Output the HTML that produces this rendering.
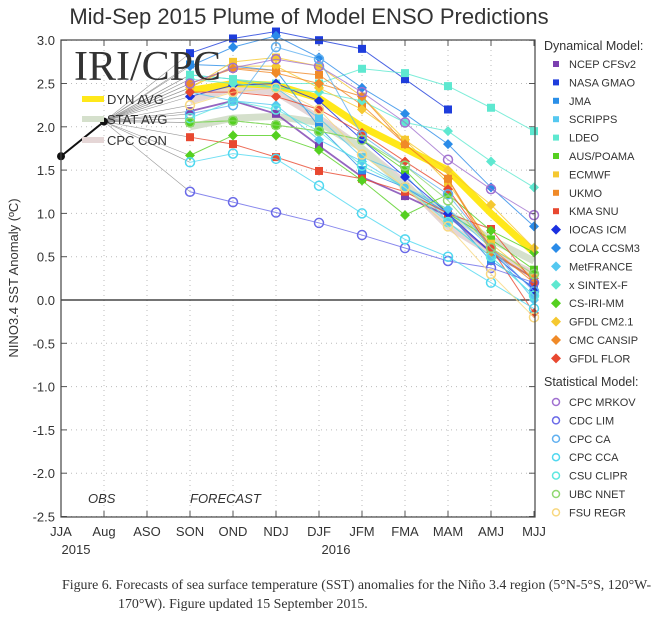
<!DOCTYPE html>
<html><head><meta charset="utf-8"><style>
body{margin:0;background:#fff;width:660px;height:618px;overflow:hidden}
svg{position:absolute;left:0;top:0}
text{font-family:"Liberation Sans",sans-serif;fill:#333}
</style></head><body>
<svg id="s" width="660" height="618" xmlns="http://www.w3.org/2000/svg"></svg>
<script>
const s=document.getElementById('s');
let h='';
const X=i=>61+i*43.0, Y=v=>300-v*86.6;
h+='<text x="309" y="24" font-size="22" text-anchor="middle" fill="#222">Mid-Sep 2015 Plume of Model ENSO Predictions</text>';
for(let i=1;i<11;i++)h+=`<line x1="${X(i)}" y1="40" x2="${X(i)}" y2="517" stroke="#bbb" stroke-dasharray="1,4"/>`;
for(let v=-2.5;v<=3.01;v+=0.5){if(Math.abs(v)<0.01)continue;h+=`<line x1="61" y1="${Y(v)}" x2="535" y2="${Y(v)}" stroke="#bbb" stroke-dasharray="1,4"/>`;}
for(let v=-2.5;v<=3.01;v+=0.5){const y=Y(v);h+=`<line x1="61" y1="${y}" x2="67" y2="${y}" stroke="#555"/><line x1="529" y1="${y}" x2="535" y2="${y}" stroke="#555"/><text x="55" y="${y+5}" font-size="13" text-anchor="end">${v.toFixed(1)}</text>`;}
const lab=['JJA','Aug','ASO','SON','OND','NDJ','DJF','JFM','FMA','MAM','AMJ','MJJ'];
lab.forEach((l,i)=>{h+=`<line x1="${X(i)}" y1="40" x2="${X(i)}" y2="46" stroke="#555"/><line x1="${X(i)}" y1="511" x2="${X(i)}" y2="517" stroke="#555"/><text x="${X(i)}" y="536" font-size="13" text-anchor="middle">${l}</text>`;});
h+='<text x="76" y="554" font-size="13" text-anchor="middle">2015</text><text x="336" y="554" font-size="13" text-anchor="middle">2016</text>';
h+='<line x1="61" y1="300" x2="535" y2="300" stroke="#222" stroke-width="1.2"/>';
h+='<text x="18" y="278" font-size="13" text-anchor="middle" transform="rotate(-90 18 278)">NINO3.4 SST Anomaly (ºC)</text>';
h+='<text x="88" y="503" font-size="13" font-style="italic">OBS</text><text x="190" y="503" font-size="13" font-style="italic">FORECAST</text>';
const S=[
['#7b3fb0','sq',[2.18,2.3,2.15,1.78,1.42,1.2,0.97,0.55,0.25],1.8],
['#1e3ddc','sq',[2.85,3.02,3.1,3.0,2.9,2.55,2.2,null,null],1],
['#2a8fe8','sq',[2.72,2.7,2.65,2.0,1.5,1.3,1.0,0.45,0.15],1],
['#55c8f0','sq',[2.6,2.55,2.45,2.1,1.65,1.45,0.9,0.5,0.05],1],
['#5ee8d0','sq',[2.6,2.55,2.5,2.5,2.67,2.62,2.47,2.22,1.95],1],
['#55d020','sq',[2.05,2.07,2.02,1.95,1.85,1.5,1.0,0.7,0.35],1],
['#f5c830','sq',[2.45,2.75,2.8,2.7,2.35,1.85,1.35,0.65,0.25],1],
['#f08a28','sq',[2.5,2.68,2.65,2.6,2.25,1.8,1.4,0.6,0.2],1],
['#e84830','sq',[1.88,1.8,1.65,1.49,1.4,1.25,1.0,0.82,0.2],1],
['#1a30e0','di',[2.35,2.48,2.5,2.3,1.85,1.42,1.0,0.55,0.12],1],
['#2a8be8','di',[2.7,2.92,3.05,2.8,2.45,2.15,1.8,1.3,0.85],1],
['#55c8f0','di',[2.4,2.3,2.25,1.85,1.6,1.3,1.05,0.6,0.0],1],
['#5ee8d0','di',[2.55,2.5,2.45,2.4,2.3,2.05,1.95,1.6,1.3],1],
['#55d020','di',[1.67,1.9,1.9,1.73,1.38,0.98,1.22,0.8,0.55],1],
['#f5c830','di',[2.45,2.7,2.7,2.45,2.2,1.85,1.5,1.1,0.6],1],
['#f08a28','di',[2.5,2.67,2.62,2.5,2.35,1.8,1.4,0.55,0.25],1],
['#e84830','di',[2.4,2.4,2.35,2.2,1.93,1.6,1.28,0.6,-0.15],1],
['#a070d0','ci',[2.5,2.68,2.78,2.7,2.4,2.05,1.62,1.28,0.98],1],
['#6a6ae8','ci',[1.25,1.13,1.01,0.89,0.75,0.6,0.45,0.37,0.2],1],
['#60b0f0','ci',[2.15,2.25,2.92,2.78,1.9,1.55,1.22,0.6,0.1],1],
['#50d8f0','ci',[1.59,1.69,1.63,1.32,1.0,0.7,0.5,0.2,-0.1],1],
['#60e8e0','ci',[2.1,2.3,2.2,1.95,1.55,1.3,0.9,0.5,0.05],1],
['#90d870','ci',[2.05,2.07,2.02,1.95,1.85,1.55,1.15,0.6,0.3],1],
['#f8d880','ci',[2.25,2.4,2.45,2.2,1.68,1.3,0.85,0.3,-0.2],1],
];
const avg=[['#e5d6d6',[2.3,2.45,2.4,2.1,1.75,1.35,0.85,0.55,0.3]],['#d5e0cc',[2.0,2.1,2.12,2.05,1.75,1.3,1.0,0.7,0.45]],['#ffe81a',[2.42,2.5,2.48,2.33,2.0,1.75,1.5,1.0,0.55]]];
S.forEach(r=>{h+=`<line x1="${X(1)}" y1="${Y(2.06)}" x2="${X(3)}" y2="${Y(r[2][0])}" stroke="#999" stroke-width="0.6"/>`;});
avg.forEach(a=>{h+=`<polyline fill="none" stroke="${a[0]}" stroke-width="7" points="${a[1].map((v,i)=>X(i+3)+','+Y(v)).join(' ')}"/>`;});
function mk(c,t,x,y){if(t=='sq')return `<rect x="${x-4}" y="${y-4}" width="8" height="8" fill="${c}"/>`;if(t=='di')return `<polygon points="${x},${y-5} ${x+5},${y} ${x},${y+5} ${x-5},${y}" fill="${c}"/>`;return `<circle cx="${x}" cy="${y}" r="4.5" fill="none" stroke="${c}" stroke-width="1.5"/>`;}
S.forEach(r=>{const p=r[2].map((v,i)=>v==null?null:[X(i+3),Y(v)]).filter(q=>q);h+=`<polyline fill="none" stroke="${r[0]}" stroke-width="${r[3]}" opacity="0.8" points="${p.map(q=>q.join(',')).join(' ')}"/>`;p.forEach(q=>h+=mk(r[0],r[1],q[0],q[1]));});
h+=`<polyline fill="none" stroke="#111" stroke-width="2" points="${X(0)},${Y(1.66)} ${X(1)},${Y(2.06)}"/><circle cx="${X(0)}" cy="${Y(1.66)}" r="4" fill="#111"/><circle cx="${X(1)}" cy="${Y(2.06)}" r="4" fill="#111"/>`;
h+='<text x="74" y="80" font-size="42" style="font-family:Liberation Serif,serif" fill="#1a2b8c">IRI/CPC</text>';
[['#ffe81a','DYN AVG',99],['#d5e0cc','STAT AVG',119],['#e5d6d6','CPC CON',140]].forEach(a=>{h+=`<line x1="82" y1="${a[2]}" x2="104" y2="${a[2]}" stroke="${a[0]}" stroke-width="6"/><text x="107" y="${a[2]+5}" font-size="13">${a[1]}</text>`;});
h+='<rect x="61" y="40" width="474" height="477" fill="none" stroke="#444" stroke-width="1.2"/>';
const dyn=[['#7b3fb0','sq','NCEP CFSv2'],['#1e3ddc','sq','NASA GMAO'],['#2a8fe8','sq','JMA'],['#55c8f0','sq','SCRIPPS'],['#5ee8d0','sq','LDEO'],['#55d020','sq','AUS/POAMA'],['#f5c830','sq','ECMWF'],['#f08a28','sq','UKMO'],['#e84830','sq','KMA SNU'],['#1a30e0','di','IOCAS ICM'],['#2a8be8','di','COLA CCSM3'],['#55c8f0','di','MetFRANCE'],['#5ee8d0','di','x SINTEX-F'],['#55d020','di','CS-IRI-MM'],['#f5c830','di','GFDL CM2.1'],['#f08a28','di','CMC CANSIP'],['#e84830','di','GFDL FLOR']];
h+='<text x="544" y="50" font-size="12.5">Dynamical Model:</text>';
dyn.forEach((d,i)=>{const y=64+i*18.4;h+=d[1]=='sq'?`<rect x="553" y="${y-3}" width="6" height="6" fill="${d[0]}"/>`:`<polygon points="556,${y-5} 561,${y} 556,${y+5} 551,${y}" fill="${d[0]}"/>`;h+=`<text x="569" y="${y+4}" font-size="11">${d[2]}</text>`;});
h+='<text x="544" y="386" font-size="12.5">Statistical Model:</text>';
[['#a070d0','CPC MRKOV'],['#6a6ae8','CDC LIM'],['#60b0f0','CPC CA'],['#50d8f0','CPC CCA'],['#60e8e0','CSU CLIPR'],['#90d870','UBC NNET'],['#f8d880','FSU REGR']].forEach((d,i)=>{const y=402+i*18.4;h+=`<circle cx="556" cy="${y}" r="3.5" fill="none" stroke="${d[0]}" stroke-width="1.5"/><text x="569" y="${y+4}" font-size="11">${d[1]}</text>`;});
h+='<text x="62" y="589" font-size="13.9" style="font-family:Liberation Serif,serif" fill="#000">Figure 6. Forecasts of sea surface temperature (SST) anomalies for the Niño 3.4 region (5°N-5°S, 120°W-</text>';
h+='<text x="118" y="608" font-size="13.9" style="font-family:Liberation Serif,serif" fill="#000">170°W). Figure updated 15 September 2015.</text>';
s.innerHTML=h;
</script>
</body></html>
